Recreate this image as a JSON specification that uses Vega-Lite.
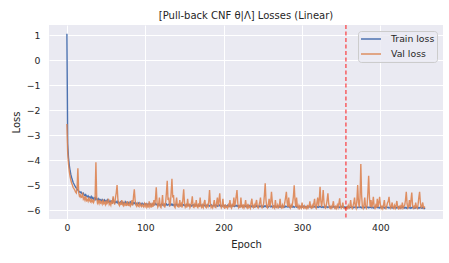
{
"$schema": "https://vega.github.io/schema/vega-lite/v6.json",
"width": 394, "height": 194,
"autosize": {"type": "none"},
"padding": {"left": 49, "top": 25, "right": 6, "bottom": 44},
"background": "white",
"config": {
  "view": {"fill": "#EAEAF2", "stroke": null},
  "font": "DejaVu Sans",
  "axis": {"domain": false, "ticks": false, "gridColor": "white", "gridWidth": 1, "labelColor": "#262626", "labelFontSize": 9.3, "titleColor": "#262626", "titleFontSize": 10, "titleFontWeight": "normal", "labelFont": "DejaVu Sans", "titleFont": "DejaVu Sans"}
},
"title": {"text": "[Pull-back CNF θ|Λ] Losses (Linear)", "fontSize": 10, "fontWeight": "normal", "color": "#262626", "offset": 3, "anchor": "middle", "font": "DejaVu Sans"},
"data": {"values": [
{"e":0,"t":1.05,"v":-2.56},{"e":1,"t":-3.35,"v":-3.7},{"e":2,"t":-3.9,"v":-4.15},{"e":3,"t":-4.2,"v":-4.45},{"e":4,"t":-4.42,"v":-4.65},{"e":5,"t":-4.58,"v":-4.8},{"e":6,"t":-4.7,"v":-4.92},{"e":7,"t":-4.8,"v":-5.0},{"e":8,"t":-4.9,"v":-5.1},{"e":9,"t":-4.96,"v":-5.15},
{"e":10,"t":-5.02,"v":-5.2},{"e":11,"t":-5.08,"v":-5.28},{"e":12,"t":-5.12,"v":-5.32},{"e":13,"t":-5.17,"v":-5.1},{"e":14,"t":-5.2,"v":-4.33},{"e":15,"t":-5.24,"v":-5.3},{"e":16,"t":-5.27,"v":-5.45},{"e":17,"t":-5.3,"v":-5.4},{"e":18,"t":-5.28,"v":-5.5},{"e":19,"t":-5.34,"v":-5.48},
{"e":20,"t":-5.36,"v":-5.3},{"e":21,"t":-5.33,"v":-5.56},{"e":22,"t":-5.4,"v":-5.5},{"e":23,"t":-5.42,"v":-5.6},{"e":24,"t":-5.38,"v":-5.45},{"e":25,"t":-5.45,"v":-5.62},{"e":26,"t":-5.47,"v":-5.58},{"e":27,"t":-5.43,"v":-5.65},{"e":28,"t":-5.5,"v":-5.5},{"e":29,"t":-5.48,"v":-5.63},
{"e":30,"t":-5.52,"v":-5.67},{"e":31,"t":-5.46,"v":-5.55},{"e":32,"t":-5.55,"v":-5.68},{"e":33,"t":-5.5,"v":-5.62},{"e":34,"t":-5.56,"v":-5.7},{"e":35,"t":-5.52,"v":-5.6},{"e":36,"t":-5.58,"v":-5.5},{"e":37,"t":-5.5,"v":-4.09},{"e":38,"t":-5.56,"v":-5.5},{"e":39,"t":-5.6,"v":-5.72},
{"e":40,"t":-5.55,"v":-5.65},{"e":41,"t":-5.62,"v":-5.74},{"e":42,"t":-5.57,"v":-5.6},{"e":43,"t":-5.6,"v":-5.72},{"e":44,"t":-5.64,"v":-5.68},{"e":45,"t":-5.58,"v":-5.76},{"e":46,"t":-5.62,"v":-5.58},{"e":47,"t":-5.66,"v":-5.74},{"e":48,"t":-5.6,"v":-5.7},{"e":49,"t":-5.65,"v":-5.78},
{"e":50,"t":-5.62,"v":-5.62},{"e":51,"t":-5.68,"v":-5.75},{"e":52,"t":-5.6,"v":-5.7},{"e":53,"t":-5.66,"v":-5.55},{"e":54,"t":-5.7,"v":-5.78},{"e":55,"t":-5.63,"v":-5.72},{"e":56,"t":-5.68,"v":-5.8},{"e":57,"t":-5.65,"v":-5.6},{"e":58,"t":-5.7,"v":-5.76},{"e":59,"t":-5.58,"v":-5.45},
{"e":60,"t":-5.66,"v":-5.7},{"e":61,"t":-5.72,"v":-5.78},{"e":62,"t":-5.67,"v":-5.5},{"e":63,"t":-5.7,"v":-5.3},{"e":64,"t":-5.65,"v":-5.0},{"e":65,"t":-5.72,"v":-5.55},{"e":66,"t":-5.68,"v":-5.76},{"e":67,"t":-5.74,"v":-5.82},{"e":68,"t":-5.7,"v":-5.68},{"e":69,"t":-5.66,"v":-5.8},
{"e":70,"t":-5.73,"v":-5.6},{"e":71,"t":-5.69,"v":-5.78},{"e":72,"t":-5.75,"v":-5.83},{"e":73,"t":-5.7,"v":-5.7},{"e":74,"t":-5.72,"v":-5.8},{"e":75,"t":-5.67,"v":-5.75},{"e":76,"t":-5.74,"v":-5.84},{"e":77,"t":-5.71,"v":-5.65},{"e":78,"t":-5.76,"v":-5.8},{"e":79,"t":-5.7,"v":-5.82},
{"e":80,"t":-5.73,"v":-5.72},{"e":81,"t":-5.68,"v":-5.84},{"e":82,"t":-5.75,"v":-5.78},{"e":83,"t":-5.72,"v":-5.6},{"e":84,"t":-5.77,"v":-5.82},{"e":85,"t":-5.71,"v":-5.45},{"e":86,"t":-5.74,"v":-5.17},{"e":87,"t":-5.7,"v":-5.6},{"e":88,"t":-5.76,"v":-5.8},{"e":89,"t":-5.73,"v":-5.85},
{"e":90,"t":-5.78,"v":-5.74},{"e":91,"t":-5.74,"v":-5.83},{"e":92,"t":-5.71,"v":-5.86},{"e":93,"t":-5.77,"v":-5.7},{"e":94,"t":-5.75,"v":-5.82},{"e":95,"t":-5.79,"v":-5.86},{"e":96,"t":-5.73,"v":-5.78},{"e":97,"t":-5.76,"v":-5.84},{"e":98,"t":-5.78,"v":-5.88},{"e":99,"t":-5.74,"v":-5.75},
{"e":100,"t":-5.76,"v":-5.84},{"e":101,"t":-5.79,"v":-5.72},{"e":102,"t":-5.75,"v":-5.88},{"e":103,"t":-5.8,"v":-5.8},{"e":104,"t":-5.77,"v":-5.9},{"e":105,"t":-5.74,"v":-5.65},{"e":106,"t":-5.79,"v":-5.86},{"e":107,"t":-5.76,"v":-5.78},{"e":108,"t":-5.81,"v":-5.9},{"e":109,"t":-5.77,"v":-5.7},
{"e":110,"t":-5.75,"v":-5.87},{"e":111,"t":-5.8,"v":-5.6},{"e":112,"t":-5.78,"v":-5.82},{"e":113,"t":-5.74,"v":-5.55},{"e":114,"t":-5.79,"v":-5.09},{"e":115,"t":-5.77,"v":-5.7},{"e":116,"t":-5.81,"v":-5.88},{"e":117,"t":-5.76,"v":-5.8},{"e":118,"t":-5.79,"v":-5.5},{"e":119,"t":-5.82,"v":-5.86},
{"e":120,"t":-5.78,"v":-5.9},{"e":121,"t":-5.75,"v":-5.74},{"e":122,"t":-5.8,"v":-5.4},{"e":123,"t":-5.78,"v":-5.85},{"e":124,"t":-5.82,"v":-5.78},{"e":125,"t":-5.77,"v":-5.9},{"e":126,"t":-5.8,"v":-5.68},{"e":127,"t":-5.76,"v":-5.3},{"e":128,"t":-5.81,"v":-4.83},{"e":129,"t":-5.79,"v":-5.6},
{"e":130,"t":-5.77,"v":-5.5},{"e":131,"t":-5.82,"v":-5.86},{"e":132,"t":-5.78,"v":-5.75},{"e":133,"t":-5.8,"v":-5.3},{"e":134,"t":-5.76,"v":-4.75},{"e":135,"t":-5.81,"v":-5.5},{"e":136,"t":-5.79,"v":-5.4},{"e":137,"t":-5.83,"v":-5.85},{"e":138,"t":-5.78,"v":-5.9},{"e":139,"t":-5.8,"v":-5.72},
{"e":140,"t":-5.77,"v":-5.5},{"e":141,"t":-5.82,"v":-5.88},{"e":142,"t":-5.79,"v":-5.8},{"e":143,"t":-5.81,"v":-5.9},{"e":144,"t":-5.78,"v":-5.6},{"e":145,"t":-5.83,"v":-5.86},{"e":146,"t":-5.8,"v":-5.76},{"e":147,"t":-5.78,"v":-5.9},{"e":148,"t":-5.82,"v":-5.55},{"e":149,"t":-5.79,"v":-5.17},
{"e":150,"t":-5.81,"v":-5.7},{"e":151,"t":-5.84,"v":-5.88},{"e":152,"t":-5.8,"v":-5.8},{"e":153,"t":-5.78,"v":-5.9},{"e":154,"t":-5.82,"v":-5.55},{"e":155,"t":-5.8,"v":-5.86},{"e":156,"t":-5.83,"v":-5.75},{"e":157,"t":-5.79,"v":-5.9},{"e":158,"t":-5.81,"v":-5.82},{"e":159,"t":-5.84,"v":-5.7},
{"e":160,"t":-5.8,"v":-5.45},{"e":161,"t":-5.82,"v":-5.87},{"e":162,"t":-5.79,"v":-5.9},{"e":163,"t":-5.83,"v":-5.78},{"e":164,"t":-5.81,"v":-5.88},{"e":165,"t":-5.78,"v":-5.6},{"e":166,"t":-5.82,"v":-5.86},{"e":167,"t":-5.84,"v":-5.9},{"e":168,"t":-5.8,"v":-5.74},{"e":169,"t":-5.83,"v":-5.88},
{"e":170,"t":-5.81,"v":-5.5},{"e":171,"t":-5.79,"v":-5.85},{"e":172,"t":-5.84,"v":-5.9},{"e":173,"t":-5.82,"v":-5.8},{"e":174,"t":-5.8,"v":-5.89},{"e":175,"t":-5.83,"v":-5.72},{"e":176,"t":-5.81,"v":-5.6},{"e":177,"t":-5.85,"v":-5.88},{"e":178,"t":-5.82,"v":-5.91},{"e":179,"t":-5.8,"v":-5.8},
{"e":180,"t":-5.83,"v":-5.86},{"e":181,"t":-5.81,"v":-5.65},{"e":182,"t":-5.84,"v":-5.2},{"e":183,"t":-5.82,"v":-5.75},{"e":184,"t":-5.79,"v":-5.9},{"e":185,"t":-5.83,"v":-5.84},{"e":186,"t":-5.85,"v":-5.91},{"e":187,"t":-5.81,"v":-5.78},{"e":188,"t":-5.83,"v":-5.6},{"e":189,"t":-5.8,"v":-5.88},
{"e":190,"t":-5.84,"v":-5.9},{"e":191,"t":-5.82,"v":-5.7},{"e":192,"t":-5.85,"v":-5.5},{"e":193,"t":-5.81,"v":-5.86},{"e":194,"t":-5.83,"v":-5.62},{"e":195,"t":-5.8,"v":-5.33},{"e":196,"t":-5.84,"v":-5.8},{"e":197,"t":-5.82,"v":-5.91},{"e":198,"t":-5.85,"v":-5.85},{"e":199,"t":-5.83,"v":-5.55},
{"e":200,"t":-5.81,"v":-5.88},{"e":201,"t":-5.84,"v":-5.92},{"e":202,"t":-5.82,"v":-5.78},{"e":203,"t":-5.86,"v":-5.9},{"e":204,"t":-5.83,"v":-5.86},{"e":205,"t":-5.81,"v":-5.92},{"e":206,"t":-5.85,"v":-5.8},{"e":207,"t":-5.83,"v":-5.89},{"e":208,"t":-5.86,"v":-5.6},{"e":209,"t":-5.82,"v":-5.87},
{"e":210,"t":-5.84,"v":-5.92},{"e":211,"t":-5.81,"v":-5.75},{"e":212,"t":-5.85,"v":-5.88},{"e":213,"t":-5.83,"v":-5.5},{"e":214,"t":-5.86,"v":-5.85},{"e":215,"t":-5.82,"v":-5.7},{"e":216,"t":-5.84,"v":-5.45},{"e":217,"t":-5.81,"v":-5.2},{"e":218,"t":-5.85,"v":-5.72},{"e":219,"t":-5.83,"v":-5.9},
{"e":220,"t":-5.86,"v":-5.84},{"e":221,"t":-5.84,"v":-5.92},{"e":222,"t":-5.82,"v":-5.5},{"e":223,"t":-5.85,"v":-5.86},{"e":224,"t":-5.83,"v":-5.9},{"e":225,"t":-5.87,"v":-5.78},{"e":226,"t":-5.84,"v":-5.91},{"e":227,"t":-5.82,"v":-5.82},{"e":228,"t":-5.86,"v":-5.6},{"e":229,"t":-5.84,"v":-5.88},
{"e":230,"t":-5.87,"v":-5.92},{"e":231,"t":-5.83,"v":-5.76},{"e":232,"t":-5.85,"v":-5.9},{"e":233,"t":-5.82,"v":-5.85},{"e":234,"t":-5.86,"v":-5.92},{"e":235,"t":-5.84,"v":-5.7},{"e":236,"t":-5.87,"v":-5.55},{"e":237,"t":-5.83,"v":-5.88},{"e":238,"t":-5.85,"v":-5.91},{"e":239,"t":-5.88,"v":-5.8},
{"e":240,"t":-5.84,"v":-5.9},{"e":241,"t":-5.86,"v":-5.74},{"e":242,"t":-5.83,"v":-5.6},{"e":243,"t":-5.87,"v":-5.88},{"e":244,"t":-5.85,"v":-5.92},{"e":245,"t":-5.88,"v":-5.82},{"e":246,"t":-5.84,"v":-5.7},{"e":247,"t":-5.86,"v":-5.5},{"e":248,"t":-5.83,"v":-5.86},{"e":249,"t":-5.87,"v":-5.91},
{"e":250,"t":-5.85,"v":-5.85},{"e":251,"t":-5.88,"v":-5.75},{"e":252,"t":-5.84,"v":-5.4},{"e":253,"t":-5.86,"v":-4.93},{"e":254,"t":-5.83,"v":-5.6},{"e":255,"t":-5.87,"v":-5.88},{"e":256,"t":-5.85,"v":-5.92},{"e":257,"t":-5.88,"v":-5.78},{"e":258,"t":-5.86,"v":-5.55},{"e":259,"t":-5.84,"v":-5.88},
{"e":260,"t":-5.87,"v":-5.7},{"e":261,"t":-5.85,"v":-5.27},{"e":262,"t":-5.88,"v":-5.65},{"e":263,"t":-5.86,"v":-5.9},{"e":264,"t":-5.84,"v":-5.86},{"e":265,"t":-5.87,"v":-5.92},{"e":266,"t":-5.85,"v":-5.6},{"e":267,"t":-5.89,"v":-5.88},{"e":268,"t":-5.86,"v":-5.91},{"e":269,"t":-5.84,"v":-5.8},
{"e":270,"t":-5.88,"v":-5.9},{"e":271,"t":-5.86,"v":-5.84},{"e":272,"t":-5.89,"v":-5.55},{"e":273,"t":-5.85,"v":-5.88},{"e":274,"t":-5.87,"v":-5.92},{"e":275,"t":-5.84,"v":-5.8},{"e":276,"t":-5.88,"v":-5.9},{"e":277,"t":-5.86,"v":-5.86},{"e":278,"t":-5.89,"v":-5.7},{"e":279,"t":-5.85,"v":-5.5},
{"e":280,"t":-5.87,"v":-5.27},{"e":281,"t":-5.85,"v":-5.7},{"e":282,"t":-5.88,"v":-5.88},{"e":283,"t":-5.86,"v":-5.5},{"e":284,"t":-5.89,"v":-5.86},{"e":285,"t":-5.85,"v":-5.92},{"e":286,"t":-5.87,"v":-5.8},{"e":287,"t":-5.84,"v":-5.9},{"e":288,"t":-5.88,"v":-5.72},{"e":289,"t":-5.86,"v":-5.45},
{"e":290,"t":-5.89,"v":-5.01},{"e":291,"t":-5.87,"v":-5.6},{"e":292,"t":-5.85,"v":-5.88},{"e":293,"t":-5.88,"v":-5.5},{"e":294,"t":-5.86,"v":-5.85},{"e":295,"t":-5.89,"v":-5.92},{"e":296,"t":-5.87,"v":-5.82},{"e":297,"t":-5.85,"v":-5.93},{"e":298,"t":-5.88,"v":-5.86},{"e":299,"t":-5.86,"v":-5.92},
{"e":300,"t":-5.89,"v":-5.7},{"e":301,"t":-5.87,"v":-5.9},{"e":302,"t":-5.85,"v":-5.93},{"e":303,"t":-5.88,"v":-5.84},{"e":304,"t":-5.86,"v":-5.92},{"e":305,"t":-5.89,"v":-5.88},{"e":306,"t":-5.87,"v":-5.94},{"e":307,"t":-5.9,"v":-5.8},{"e":308,"t":-5.86,"v":-5.91},{"e":309,"t":-5.88,"v":-5.86},
{"e":310,"t":-5.86,"v":-5.65},{"e":311,"t":-5.89,"v":-5.9},{"e":312,"t":-5.87,"v":-5.93},{"e":313,"t":-5.9,"v":-5.82},{"e":314,"t":-5.86,"v":-5.92},{"e":315,"t":-5.88,"v":-5.75},{"e":316,"t":-5.86,"v":-5.55},{"e":317,"t":-5.89,"v":-5.88},{"e":318,"t":-5.87,"v":-5.93},{"e":319,"t":-5.9,"v":-5.7},
{"e":320,"t":-5.87,"v":-5.5},{"e":321,"t":-5.89,"v":-5.86},{"e":322,"t":-5.86,"v":-5.6},{"e":323,"t":-5.88,"v":-5.07},{"e":324,"t":-5.86,"v":-5.65},{"e":325,"t":-5.89,"v":-5.88},{"e":326,"t":-5.87,"v":-5.6},{"e":327,"t":-5.9,"v":-5.2},{"e":328,"t":-5.87,"v":-5.7},{"e":329,"t":-5.89,"v":-5.9},
{"e":330,"t":-5.86,"v":-5.93},{"e":331,"t":-5.88,"v":-5.8},{"e":332,"t":-5.87,"v":-5.6},{"e":333,"t":-5.9,"v":-5.33},{"e":334,"t":-5.88,"v":-5.75},{"e":335,"t":-5.86,"v":-5.91},{"e":336,"t":-5.89,"v":-5.94},{"e":337,"t":-5.87,"v":-5.85},{"e":338,"t":-5.9,"v":-5.92},{"e":339,"t":-5.88,"v":-5.82},
{"e":340,"t":-5.86,"v":-5.65},{"e":341,"t":-5.89,"v":-5.9},{"e":342,"t":-5.87,"v":-5.94},{"e":343,"t":-5.9,"v":-5.86},{"e":344,"t":-5.88,"v":-5.93},{"e":345,"t":-5.86,"v":-5.8},{"e":346,"t":-5.89,"v":-5.9},{"e":347,"t":-5.87,"v":-5.75},{"e":348,"t":-5.9,"v":-5.53},{"e":349,"t":-5.88,"v":-5.85},
{"e":350,"t":-5.86,"v":-5.93},{"e":351,"t":-5.89,"v":-5.88},{"e":352,"t":-5.87,"v":-5.7},{"e":353,"t":-5.9,"v":-5.91},{"e":354,"t":-5.88,"v":-5.94},{"e":355,"t":-5.91,"v":-5.95},{"e":356,"t":-5.88,"v":-5.96},{"e":357,"t":-5.9,"v":-5.88},{"e":358,"t":-5.87,"v":-5.93},{"e":359,"t":-5.9,"v":-5.82},
{"e":360,"t":-5.88,"v":-5.92},{"e":361,"t":-5.91,"v":-5.86},{"e":362,"t":-5.89,"v":-5.6},{"e":363,"t":-5.87,"v":-5.88},{"e":364,"t":-5.9,"v":-5.94},{"e":365,"t":-5.88,"v":-5.84},{"e":366,"t":-5.91,"v":-5.72},{"e":367,"t":-5.89,"v":-5.5},{"e":368,"t":-5.87,"v":-5.86},{"e":369,"t":-5.9,"v":-5.93},
{"e":370,"t":-5.88,"v":-5.6},{"e":371,"t":-5.91,"v":-5.0},{"e":372,"t":-5.89,"v":-5.7},{"e":373,"t":-5.87,"v":-5.9},{"e":374,"t":-5.9,"v":-5.5},{"e":375,"t":-5.88,"v":-4.16},{"e":376,"t":-5.91,"v":-5.4},{"e":377,"t":-5.89,"v":-5.88},{"e":378,"t":-5.9,"v":-5.94},{"e":379,"t":-5.88,"v":-5.8},
{"e":380,"t":-5.91,"v":-5.5},{"e":381,"t":-5.89,"v":-5.86},{"e":382,"t":-5.87,"v":-5.93},{"e":383,"t":-5.9,"v":-5.82},{"e":384,"t":-5.88,"v":-5.3},{"e":385,"t":-5.91,"v":-4.63},{"e":386,"t":-5.89,"v":-5.5},{"e":387,"t":-5.9,"v":-5.88},{"e":388,"t":-5.88,"v":-5.6},{"e":389,"t":-5.91,"v":-5.9},
{"e":390,"t":-5.89,"v":-5.75},{"e":391,"t":-5.92,"v":-5.47},{"e":392,"t":-5.89,"v":-5.86},{"e":393,"t":-5.91,"v":-5.93},{"e":394,"t":-5.88,"v":-5.82},{"e":395,"t":-5.9,"v":-5.92},{"e":396,"t":-5.88,"v":-5.55},{"e":397,"t":-5.91,"v":-5.88},{"e":398,"t":-5.89,"v":-5.7},{"e":399,"t":-5.92,"v":-5.47},
{"e":400,"t":-5.89,"v":-5.8},{"e":401,"t":-5.91,"v":-5.93},{"e":402,"t":-5.88,"v":-5.86},{"e":403,"t":-5.9,"v":-5.94},{"e":404,"t":-5.89,"v":-5.8},{"e":405,"t":-5.92,"v":-5.6},{"e":406,"t":-5.89,"v":-5.88},{"e":407,"t":-5.91,"v":-5.94},{"e":408,"t":-5.88,"v":-5.85},{"e":409,"t":-5.9,"v":-5.72},
{"e":410,"t":-5.89,"v":-5.65},{"e":411,"t":-5.92,"v":-5.47},{"e":412,"t":-5.9,"v":-5.8},{"e":413,"t":-5.88,"v":-5.92},{"e":414,"t":-5.91,"v":-5.86},{"e":415,"t":-5.89,"v":-5.7},{"e":416,"t":-5.92,"v":-5.9},{"e":417,"t":-5.9,"v":-5.94},{"e":418,"t":-5.88,"v":-5.82},{"e":419,"t":-5.91,"v":-5.92},
{"e":420,"t":-5.89,"v":-5.8},{"e":421,"t":-5.92,"v":-5.64},{"e":422,"t":-5.9,"v":-5.88},{"e":423,"t":-5.88,"v":-5.94},{"e":424,"t":-5.91,"v":-5.86},{"e":425,"t":-5.89,"v":-5.93},{"e":426,"t":-5.92,"v":-5.84},{"e":427,"t":-5.9,"v":-5.9},{"e":428,"t":-5.88,"v":-5.7},{"e":429,"t":-5.91,"v":-5.92},
{"e":430,"t":-5.89,"v":-5.86},{"e":431,"t":-5.92,"v":-5.8},{"e":432,"t":-5.9,"v":-5.6},{"e":433,"t":-5.93,"v":-5.27},{"e":434,"t":-5.9,"v":-5.75},{"e":435,"t":-5.92,"v":-5.92},{"e":436,"t":-5.89,"v":-5.86},{"e":437,"t":-5.91,"v":-5.6},{"e":438,"t":-5.93,"v":-5.88},{"e":439,"t":-5.9,"v":-5.6},
{"e":440,"t":-5.92,"v":-5.3},{"e":441,"t":-5.89,"v":-5.8},{"e":442,"t":-5.91,"v":-5.92},{"e":443,"t":-5.93,"v":-5.86},{"e":444,"t":-5.9,"v":-5.94},{"e":445,"t":-5.92,"v":-5.7},{"e":446,"t":-5.89,"v":-5.88},{"e":447,"t":-5.91,"v":-5.93},{"e":448,"t":-5.93,"v":-5.8},{"e":449,"t":-5.9,"v":-5.5},
{"e":450,"t":-5.92,"v":-5.27},{"e":451,"t":-5.89,"v":-5.7},{"e":452,"t":-5.91,"v":-5.9},{"e":453,"t":-5.93,"v":-5.86},{"e":454,"t":-5.9,"v":-5.7},{"e":455,"t":-5.92,"v":-5.92},{"e":456,"t":-5.94,"v":-5.88},{"e":457,"t":-5.91,"v":-5.9}
]},
"layer": [
  {
    "transform": [{"fold": ["t", "v"], "as": ["k", "loss"]}],
    "mark": {"type": "line", "strokeWidth": 1.4, "clip": true},
    "encoding": {
      "x": {"field": "e", "type": "quantitative", "scale": {"domain": [-22.85, 479.85], "nice": false, "zero": false}, "axis": {"values": [0, 100, 200, 300, 400], "title": "Epoch", "labelPadding": 4, "titlePadding": 7, "grid": true}},
      "y": {"field": "loss", "type": "quantitative", "scale": {"domain": [-6.36, 1.4], "nice": false, "zero": false}, "axis": {"values": [-6, -5, -4, -3, -2, -1, 0, 1], "title": "Loss", "labelPadding": 9, "titlePadding": 5, "grid": true}},
      "color": {"field": "k", "type": "nominal", "scale": {"domain": ["t", "v"], "range": ["#4C72B0", "#DD8452"]},
        "legend": {"title": null, "orient": "top-right", "offset": 6, "labelExpr": "datum.label == 't' ? 'Train loss' : 'Val loss'", "symbolType": "M-1,0H3", "symbolSize": 100, "symbolStrokeWidth": 1.5, "labelFontSize": 9.3, "labelColor": "#262626", "labelFont": "DejaVu Sans", "labelOffset": 19, "fillColor": "rgba(234,234,242,0.8)", "strokeColor": "#CCCCCC", "cornerRadius": 3, "padding": 2, "rowPadding": 3}},
      "opacity": {"field": "k", "type": "nominal", "scale": {"domain": ["t", "v"], "range": [1, 0.9]}, "legend": null}
    }
  },
  {
    "data": {"values": [{}]},
    "mark": {"type": "rule", "color": "red", "opacity": 0.75, "strokeDash": [4, 2.5], "strokeWidth": 1.2},
    "encoding": {"x": {"datum": 356, "type": "quantitative"}}
  }
]
}
